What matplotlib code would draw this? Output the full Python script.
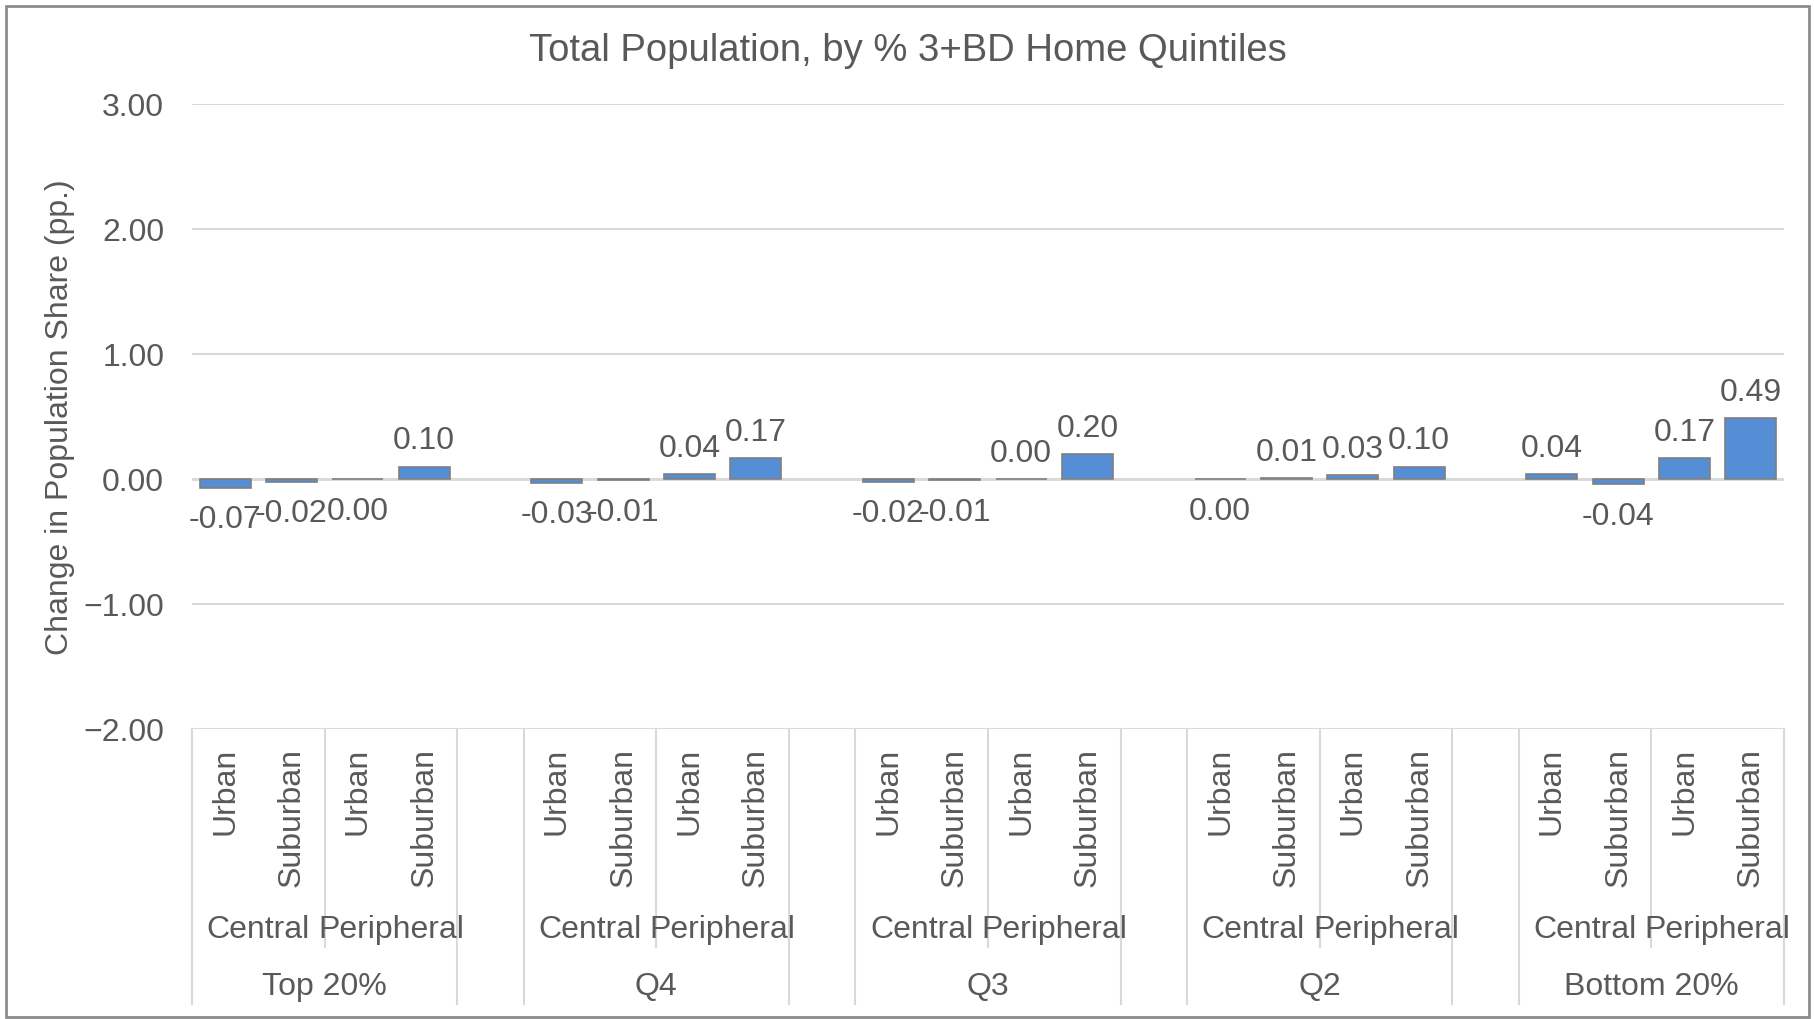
import matplotlib
matplotlib.use("Agg")
import matplotlib.pyplot as plt
from matplotlib.lines import Line2D
from matplotlib.patches import Rectangle
from matplotlib.ticker import FuncFormatter

plt.rcParams['font.family'] = ['Liberation Sans', 'DejaVu Sans']

quintiles = ['Top 20%', 'Q4', 'Q3', 'Q2', 'Bottom 20%']
locations = ['Central', 'Peripheral']
types = ['Urban', 'Suburban']

# change in population share (pp.), order: Central Urban, Central Suburban, Peripheral Urban, Peripheral Suburban
values = [
    [-0.07, -0.02, -0.003, 0.10],
    [-0.03, -0.01, 0.04, 0.17],
    [-0.02, -0.01, 0.003, 0.20],
    [-0.003, 0.01, 0.03, 0.10],
    [0.04, -0.04, 0.17, 0.49],
]

W, H, DPI = 1815, 1020, 100
text_col = '#595959'
grid_col = '#D9D9D9'
bar_col = '#558ED5'
fs = 23

fig = plt.figure(figsize=(W / DPI, H / DPI), dpi=DPI)
ax = fig.add_axes([192 / W, 1 - 730 / H, (1784 - 192) / W, (730 - 105) / H])

# 4 bars per quintile, one empty slot between quintiles
slots = []
for g in range(len(quintiles)):
    for k in range(4):
        slots.append(g * 5 + k)
flat = [v for row in values for v in row]

ax.bar(slots, flat, width=0.77, color=bar_col, edgecolor='#7F7F7F', linewidth=1.2, zorder=3)


def fmt_label(v):
    s = f"{v:.2f}"
    return "0.00" if s == "-0.00" else s


for x, v in zip(slots, flat):
    if v >= 0:
        ax.annotate(fmt_label(v), (x, v), xytext=(0, 8), textcoords='offset points',
                    ha='center', va='bottom', fontsize=fs, color=text_col, zorder=4)
    else:
        ax.annotate(fmt_label(v), (x, v), xytext=(0, -12), textcoords='offset points',
                    ha='center', va='top', fontsize=fs, color=text_col, zorder=4)

ax.set_xlim(-0.5, 23.5)
ax.set_ylim(-2, 3)
ax.set_yticks([-2, -1, 0, 1, 2, 3])
ax.yaxis.set_major_formatter(FuncFormatter(lambda y, p: f"{y:.2f}".replace('-', '\u2212')))
ax.tick_params(axis='y', length=0, pad=20, labelsize=fs, labelcolor=text_col)
ax.set_xticks([])
ax.grid(axis='y', color=grid_col, linewidth=1.5, zorder=0)
for s in ax.spines.values():
    s.set_visible(False)
ax.axhline(0, color=grid_col, linewidth=2, zorder=2)

ax.set_ylabel('Change in Population Share (pp.)', fontsize=fs, color=text_col, labelpad=6)
fig.text(0.5, 1 - 51 / H, 'Total Population, by % 3+BD Home Quintiles',
         ha='center', va='center', fontsize=27.5, color=text_col)

# multi-level category axis below the plot
btr = matplotlib.transforms.blended_transform_factory(ax.transData, fig.transFigure)


def fy(px):
    return 1 - px / H


def vline(x, bottom_px):
    fig.add_artist(Line2D([x, x], [fy(730), fy(bottom_px)], transform=btr,
                          color=grid_col, linewidth=1.5))


for g, q in enumerate(quintiles):
    start = g * 5
    vline(start - 0.5, 1005)
    vline(start + 1.5, 948)
    vline(start + 3.5, 1005)
    for k in range(4):
        fig.text(start + k, fy(748), types[k % 2], transform=btr, rotation=90,
                 ha='center', va='top', fontsize=fs, color=text_col)
    for j, loc in enumerate(locations):
        fig.text(start + 2 * j + 0.5, fy(930), loc, transform=btr,
                 ha='center', va='center', fontsize=fs, color=text_col)
    fig.text(start + 1.5, fy(987), q, transform=btr,
             ha='center', va='center', fontsize=fs, color=text_col)

# chart border
fig.add_artist(Rectangle((6.5 / W, 1 - 1017.5 / H), (1809.5 - 6.5) / W, (1017.5 - 6.5) / H,
                         transform=fig.transFigure, fill=False, edgecolor='#8C8C8C', linewidth=2))

fig.savefig('out.png', dpi=DPI)
